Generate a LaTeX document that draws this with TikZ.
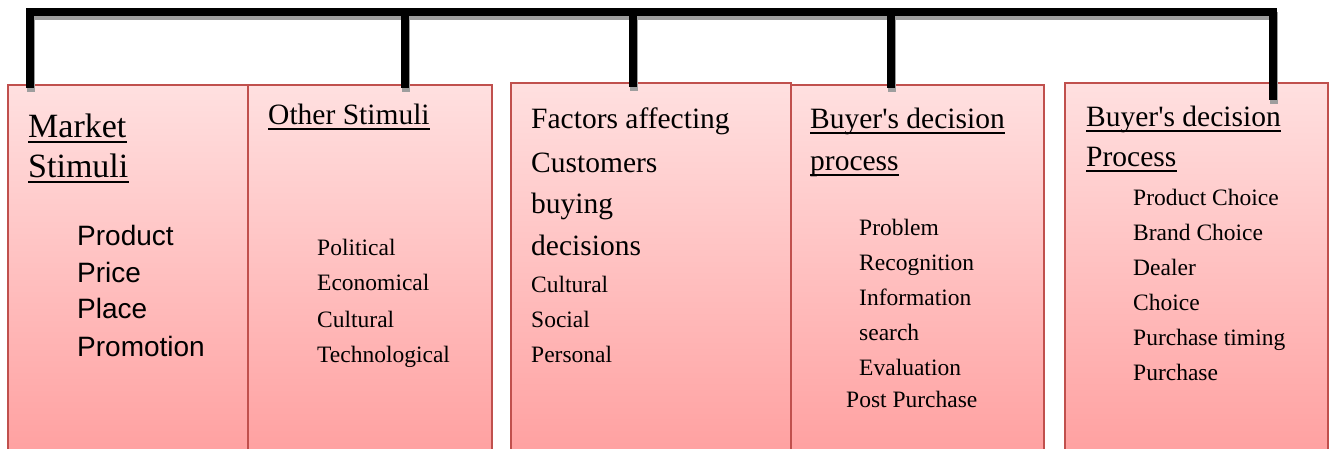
\documentclass[tikz,border=0pt]{standalone}
\usepackage{fontspec}
\setmainfont{Liberation Serif}
\newfontfamily\arialfont{Liberation Sans}
\begin{document}
\begin{tikzpicture}[x=1pt,y=-1pt,
  box/.style={draw=boxline, line width=1.7pt, top color=boxtop, bottom color=boxbot,
    anchor=north west, inner sep=0pt},
  txt/.style={anchor=base west, inner sep=0pt, text=black},
  ul/.style={append after command={([yshift=-4pt]\tikzlastnode.base west)
    edge[draw=black, line width=1.6pt] ([yshift=-4pt]\tikzlastnode.base east)}},
  conn/.style={draw=black, line width=8pt, line join=miter},
  connshadow/.style={draw=black!38, line width=8pt, line join=miter,
    transform canvas={xshift=1pt, yshift=-4pt}},
  hugeT/.style={font=\fontsize{34pt}{34pt}\selectfont},
  headT/.style={font=\fontsize{29.5pt}{30pt}\selectfont},
  itemT/.style={font=\fontsize{23.5pt}{24pt}\selectfont},
  sansT/.style={font=\arialfont\fontsize{28pt}{28pt}\selectfont},
]
\definecolor{boxline}{RGB}{192,80,77}
\definecolor{boxtop}{RGB}{255,224,224}
\definecolor{boxbot}{RGB}{255,160,160}

\clip (0,0) rectangle (1329,449);
\fill[white] (0,0) rectangle (1329,449);

% the five boxes (they run past the lower edge)
\node[box, minimum width=240pt, minimum height=372pt] (b1) at (7,84) {};
\node[box, minimum width=244pt, minimum height=372pt] (b2) at (247,84) {};
\node[box, minimum width=280pt, minimum height=374pt] (b3) at (510,82) {};
\node[box, minimum width=253pt, minimum height=372pt] (b4) at (790,84) {};
\node[box, minimum width=263pt, minimum height=374pt] (b5) at (1064,82) {};

% ends of the bracket inside each box
\coordinate (e1) at ([xshift=23pt, yshift=-4pt]b1.north west);
\coordinate (e2) at ([xshift=158pt, yshift=-4pt]b2.north west);
\coordinate (e3) at ([xshift=123pt, yshift=-5pt]b3.north west);
\coordinate (e4) at ([xshift=101pt, yshift=-4pt]b4.north west);
\coordinate (e5) at ([xshift=209pt, yshift=-18pt]b5.north west);
\coordinate (bar) at (0,12);

% bracket joining the boxes, with its shadow
\foreach \s in {connshadow, conn} {
  \draw[\s] (e1) -- (e1 |- bar) -- (e5 |- bar) -- (e5);
  \draw[\s] (e2 |- bar) -- (e2);
  \draw[\s] (e3 |- bar) -- (e3);
  \draw[\s] (e4 |- bar) -- (e4);
}

% box 1
\node[txt, hugeT, ul] (m1) at (28,138) {Market};
\node[txt, hugeT, ul] (m2) at (28,178) {Stimuli};
\node[txt, sansT] (m3) at (77,245) {Product};
\node[txt, sansT] (m4) at (77,282) {Price};
\node[txt, sansT] (m5) at (77,318) {Place};
\node[txt, sansT] (m6) at (77,356) {Promotion};

% box 2
\node[txt, headT, ul] (o1) at (268,125) {Other Stimuli};
\node[txt, itemT] (o2) at (317,255) {Political};
\node[txt, itemT] (o3) at (317,290) {Economical};
\node[txt, itemT] (o4) at (317,327) {Cultural};
\node[txt, itemT] (o5) at (317,362) {Technological};

% box 3
\node[txt, headT] (f1) at (531,129) {Factors affecting};
\node[txt, headT] (f2) at (531,172) {Customers};
\node[txt, headT] (f3) at (531,213) {buying};
\node[txt, headT] (f4) at (531,255) {decisions};
\node[txt, itemT] (f5) at (531,292) {Cultural};
\node[txt, itemT] (f6) at (531,327) {Social};
\node[txt, itemT] (f7) at (531,362) {Personal};

% box 4
\node[txt, headT, ul] (d1) at (810,129) {Buyer\textquotesingle s decision};
\node[txt, headT, ul] (d2) at (810,171) {process};
\node[txt, itemT] (d3) at (859,235) {Problem};
\node[txt, itemT] (d4) at (859,270) {Recognition};
\node[txt, itemT] (d5) at (859,305) {Information};
\node[txt, itemT] (d6) at (859,340) {search};
\node[txt, itemT] (d7) at (859,375) {Evaluation};
\node[txt, itemT] (d8) at (846,407) {Post Purchase};

% box 5
\node[txt, headT, ul] (p1) at (1086,127) {Buyer\textquotesingle s decision};
\node[txt, headT, ul] (p2) at (1086,167) {Process};
\node[txt, itemT] (p3) at (1133,205) {Product Choice};
\node[txt, itemT] (p4) at (1133,240) {Brand Choice};
\node[txt, itemT] (p5) at (1133,275) {Dealer};
\node[txt, itemT] (p6) at (1133,310) {Choice};
\node[txt, itemT] (p7) at (1133,345) {Purchase timing};
\node[txt, itemT] (p8) at (1133,380) {Purchase};
\end{tikzpicture}
\end{document}
